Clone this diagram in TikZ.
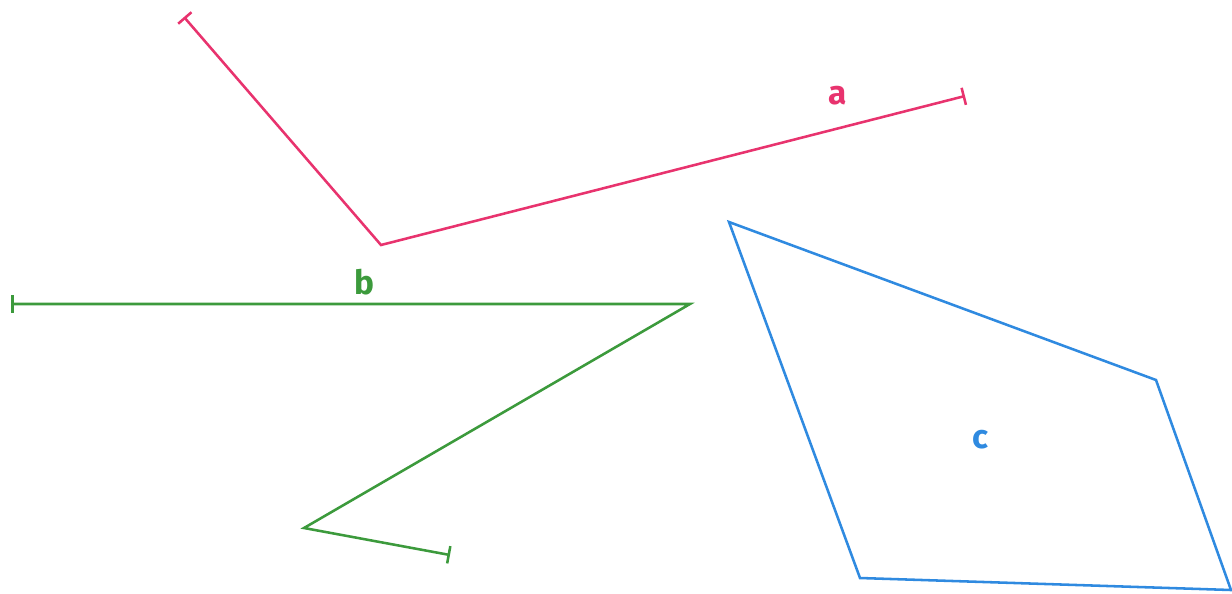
\documentclass[tikz,border=0pt]{standalone}
\usepackage{fontspec}
\setmainfont{Fira Sans}
\usetikzlibrary{arrows.meta,positioning}
\definecolor{pinkline}{HTML}{E8336E}
\definecolor{greenline}{HTML}{3C9A3C}
\definecolor{blueline}{HTML}{2F8AE0}
\begin{document}
\begin{tikzpicture}[
    x=0.02cm, y=-0.02cm,
    seg_line/.style={line width=1.45pt, {Bar[width=10pt]}-{Bar[width=10pt]}},
    poly_line/.style={line width=1.45pt, line join=miter},
    lbl/.style={font=\fontsize{19}{22}\selectfont\bfseries, inner sep=0pt}
]
\useasboundingbox (0,0) rectangle (1232,593);

% line a
\coordinate (a0) at (184,17);
\coordinate (a1) at (381,245);
\coordinate (a2) at (965,96);
\draw[seg_line, draw=pinkline] (a0) -- (a1) -- (a2);
\node[lbl, text=pinkline] (la) at (838,96) {a};

% line b
\coordinate (b0) at (11,304);
\coordinate (b1) at (690,304);
\coordinate (b2) at (304,528);
\coordinate (b3) at (450,555);
\draw[seg_line, draw=greenline] (b0) -- (b1) -- (b2) -- (b3);
\node[lbl, text=greenline] (lb) at (364,282) {b};

% shape c
\coordinate (c0) at (729,222);
\coordinate (c1) at (1156,380);
\coordinate (c2) at (1231,590);
\coordinate (c3) at (860,578);
\draw[poly_line, draw=blueline] (c0) -- (c1) -- (c2) -- (c3) -- cycle;
\node[lbl, text=blueline] (lc) at (980,440) {c};

\end{tikzpicture}
\end{document}
